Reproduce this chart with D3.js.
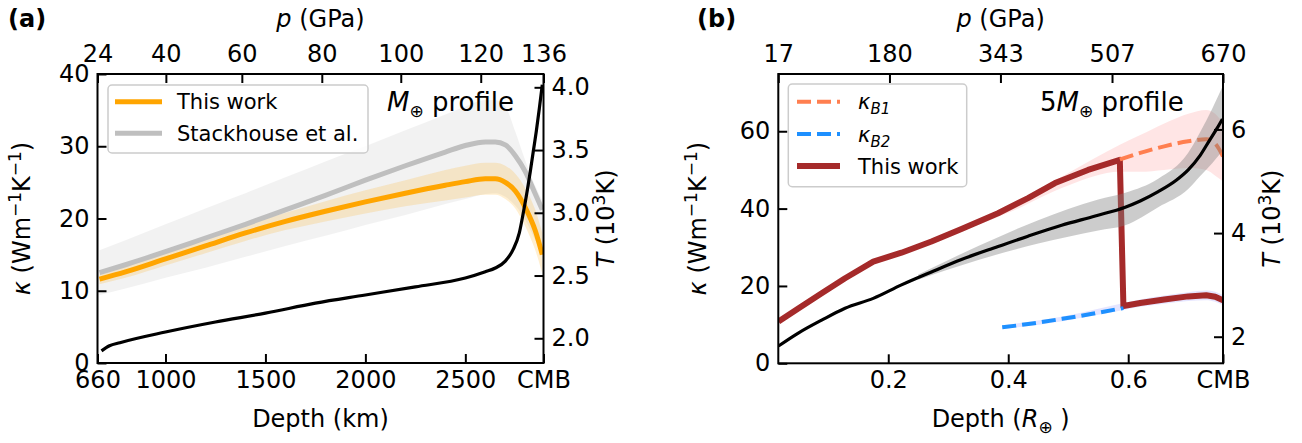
<!DOCTYPE html>
<html>
<head>
<meta charset="utf-8">
<script src="https://cdn.jsdelivr.net/npm/d3@7"></script>
<style>
body { margin: 0; background: #fff; }
text { font-family: "DejaVu Sans", sans-serif; fill: #000; }
</style>
</head>
<body>
<div id="fig"></div>
<script>
// ---------- panel (a): Earth mantle profile ----------
var depthA      = [670, 800, 1000, 1200, 1400, 1600, 1800, 2000, 2200, 2400, 2500, 2600, 2650, 2700, 2750, 2800, 2850, 2885];
var kapThis     = [11.6, 12.6, 14.4, 16.2, 18.0, 19.6, 21.0, 22.3, 23.5, 24.6, 25.1, 25.5, 25.5, 25.0, 23.8, 21.5, 18.3, 15.0];
var kapThisHi   = [12.3, 13.4, 15.3, 17.2, 19.1, 20.8, 22.4, 23.9, 25.3, 26.7, 27.3, 27.7, 27.7, 27.3, 26.2, 24.2, 21.2, 18.0];
var kapThisLo   = [10.9, 11.8, 13.5, 15.2, 16.9, 18.4, 19.6, 20.7, 21.7, 22.5, 22.9, 23.3, 23.3, 22.7, 21.4, 18.9, 15.6, 12.4];
var kapStack    = [12.5, 13.6, 15.4, 17.3, 19.2, 21.2, 23.2, 25.3, 27.3, 29.2, 30.1, 30.6, 30.6, 30.2, 28.7, 26.5, 23.4, 21.2];
var kapStackHi  = [15.6, 17.0, 19.2, 21.4, 23.5, 25.7, 27.9, 30.0, 32.2, 34.4, 35.5, 36.4, 36.4, 35.5, 32.0, 28.0, 24.5, 22.5];
var kapStackLo  = [9.4, 10.3, 11.8, 13.2, 14.7, 16.2, 17.6, 19.1, 20.5, 22.0, 22.7, 23.4, 23.5, 23.0, 21.8, 19.8, 17.0, 15.0];

var depthT_A = [680, 720, 772, 1000, 1250, 1500, 1750, 2000, 2250, 2500, 2600, 2650, 2700, 2740, 2770, 2790, 2810, 2825, 2840, 2855, 2870, 2885];
var tempA    = [1.90, 1.94, 1.965, 2.05, 2.13, 2.20, 2.28, 2.345, 2.41, 2.48, 2.53, 2.56, 2.615, 2.71, 2.84, 3.0, 3.18, 3.33, 3.49, 3.65, 3.83, 4.02];

var depthTicksA  = [660, 1000, 1500, 2000, 2500, 2891];
var depthLabelsA = ["660", "1000", "1500", "2000", "2500", "CMB"];
var pTicksA      = [660, 1002, 1382, 1782, 2177, 2577, 2891];
var pLabelsA     = ["24", "40", "60", "80", "100", "120", "136"];
var kapTicksA    = [0, 10, 20, 30, 40];
var tTicksA      = [2.0, 2.5, 3.0, 3.5, 4.0];

// ---------- panel (b): 5 Earth-mass profile ----------
var depthRed = [0.017, 0.05, 0.089, 0.128, 0.175, 0.222, 0.272, 0.322, 0.383, 0.433, 0.478, 0.533, 0.586, 0.592, 0.62, 0.66, 0.70, 0.73, 0.745, 0.758];
var kapRed   = [10.8, 14.2, 18.1, 22.0, 26.3, 28.6, 31.5, 34.7, 38.8, 42.7, 46.6, 50.0, 52.6, 14.8, 15.6, 16.5, 17.3, 17.6, 17.2, 16.3];

var depthPink = [0.20, 0.30, 0.40, 0.50, 0.586, 0.62, 0.66, 0.70, 0.73, 0.745, 0.758];
var pinkHi    = [27.6, 33.6, 40.6, 49.2, 56.5, 59.0, 62.0, 64.5, 65.5, 64.5, 62.0];
var pinkLo    = [27.3, 32.9, 38.9, 46.0, 49.5, 49.5, 50.0, 50.5, 50.0, 48.5, 47.0];

var depthB1 = [0.586, 0.62, 0.66, 0.70, 0.73, 0.745, 0.758];
var kapB1   = [52.7, 54.4, 56.1, 57.4, 57.9, 56.8, 53.5];

var depthB2 = [0.39, 0.44, 0.49, 0.54, 0.592];
var kapB2   = [9.3, 10.3, 11.5, 12.8, 14.3];

var depthLav = [0.39, 0.49, 0.592, 0.62, 0.66, 0.70, 0.73, 0.745, 0.758];
var lavHi    = [9.8, 12.1, 15.6, 16.5, 17.5, 18.4, 18.8, 18.5, 17.6];
var lavLo    = [8.8, 10.9, 13.8, 14.6, 15.4, 16.1, 16.3, 15.9, 15.0];

var depthT_B = [0.017, 0.05, 0.089, 0.128, 0.175, 0.222, 0.272, 0.322, 0.383, 0.433, 0.489, 0.545, 0.595, 0.62, 0.65, 0.68, 0.70, 0.72, 0.735, 0.748, 0.757];
var tempB    = [1.82, 2.07, 2.32, 2.55, 2.74, 3.0, 3.25, 3.49, 3.74, 3.94, 4.15, 4.33, 4.50, 4.62, 4.80, 5.02, 5.22, 5.50, 5.78, 6.02, 6.2];

var depthTband = [0.25, 0.35, 0.45, 0.55, 0.595, 0.65, 0.70, 0.72, 0.74, 0.758];
var tBandHi    = [3.2, 3.75, 4.25, 4.65, 4.78, 5.05, 5.55, 5.95, 6.4, 6.85];
var tBandLo    = [3.1, 3.48, 3.8, 4.05, 4.15, 4.5, 4.85, 5.1, 5.35, 5.6];

var depthTicksB  = [0.2, 0.4, 0.6, 0.758];
var depthLabelsB = ["0.2", "0.4", "0.6", "CMB"];
var pTicksB      = [0.0167, 0.202, 0.387, 0.573, 0.758];
var pLabelsB     = ["17", "180", "343", "507", "670"];
var kapTicksB    = [0, 20, 40, 60];
var tTicksB      = [2, 4, 6];

var svg = d3.select("#fig").append("svg")
    .attr("width", 1302)
    .attr("height", 443);

var FS = 24;

function drawAxes(p) {
    var g = svg.append("g");
    // bottom
    var ax = g.append("g").attr("transform", "translate(0," + p.bottom + ")")
        .call(d3.axisBottom(p.x).tickValues(p.xTicks).tickSize(-9).tickSizeOuter(0).tickPadding(8)
            .tickFormat(function(d, i){ return p.xLabels[i]; }));
    // top
    var at = g.append("g").attr("transform", "translate(0," + p.top + ")")
        .call(d3.axisTop(p.x).tickValues(p.pTicks).tickSize(-9).tickSizeOuter(0).tickPadding(12)
            .tickFormat(function(d, i){ return p.pLabels[i]; }));
    // left
    var al = g.append("g").attr("transform", "translate(" + p.left + ",0)")
        .call(d3.axisLeft(p.y).tickValues(p.yTicks).tickSize(-9).tickSizeOuter(0).tickPadding(8)
            .tickFormat(p.yFormat));
    // right
    var ar = g.append("g").attr("transform", "translate(" + p.right + ",0)")
        .call(d3.axisRight(p.t).tickValues(p.tTicks).tickSize(-9).tickSizeOuter(0).tickPadding(8)
            .tickFormat(p.tFormat));
    [ax, at, al, ar].forEach(function(a){
        a.select(".domain").remove();
        a.selectAll(".tick line").attr("stroke", "#000").attr("stroke-width", 2);
        a.selectAll(".tick text").style("font-size", FS + "px").style("font-family", "DejaVu Sans").attr("fill", "#000");
    });
    g.append("rect")
        .attr("x", p.left).attr("y", p.top)
        .attr("width", p.right - p.left).attr("height", p.bottom - p.top)
        .attr("fill", "none").attr("stroke", "#000").attr("stroke-width", 2);
}

function clip(id, p) {
    svg.append("clipPath").attr("id", id).append("rect")
        .attr("x", p.left).attr("y", p.top)
        .attr("width", p.right - p.left).attr("height", p.bottom - p.top);
}

function band(g, xs, lo, hi, x, y, color, op) {
    var area = d3.area()
        .x(function(d){ return x(d[0]); })
        .y0(function(d){ return y(d[1]); })
        .y1(function(d){ return y(d[2]); })
        .curve(d3.curveMonotoneX);
    g.append("path").datum(d3.zip(xs, lo, hi))
        .attr("d", area).attr("fill", color).attr("fill-opacity", op).attr("stroke", "none");
}

function curve(g, xs, ys, x, y, color, w, dash, c) {
    var line = d3.line()
        .x(function(d){ return x(d[0]); })
        .y(function(d){ return y(d[1]); })
        .curve(c || d3.curveMonotoneX);
    var path = g.append("path").datum(d3.zip(xs, ys))
        .attr("d", line).attr("fill", "none").attr("stroke", color)
        .attr("stroke-width", w).attr("stroke-linejoin", "round");
    if (dash) path.attr("stroke-dasharray", dash);
}

function kappaLabel(x, y) {
    var t = svg.append("text").attr("transform", "translate(" + x + "," + y + ") rotate(-90)")
        .attr("text-anchor", "middle").style("font-size", FS + "px");
    t.append("tspan").style("font-style", "italic").text("κ");
    t.append("tspan").text(" (Wm");
    t.append("tspan").attr("dy", -9).style("font-size", "17px").text("−1");
    t.append("tspan").attr("dy", 9).text("K");
    t.append("tspan").attr("dy", -9).style("font-size", "17px").text("−1");
    t.append("tspan").attr("dy", 9).text(")");
}

function tempLabel(x, y) {
    var t = svg.append("text").attr("transform", "translate(" + x + "," + y + ") rotate(-90)")
        .attr("text-anchor", "middle").style("font-size", FS + "px");
    t.append("tspan").style("font-style", "italic").text("T");
    t.append("tspan").text(" (10");
    t.append("tspan").attr("dy", -9).style("font-size", "17px").text("3");
    t.append("tspan").attr("dy", 9).text("K)");
}

function pLabel(x) {
    var t = svg.append("text").attr("x", x).attr("y", 27).attr("text-anchor", "middle").style("font-size", FS + "px");
    t.append("tspan").style("font-style", "italic").text("p");
    t.append("tspan").text(" (GPa)");
}

function profileText(x, y, prefix) {
    var t = svg.append("text").attr("x", x).attr("y", y).style("font-size", "26px");
    if (prefix) t.append("tspan").text(prefix);
    t.append("tspan").style("font-style", "italic").text("M");
    t.append("tspan").attr("dy", 6).style("font-size", "17px").text("⊕");
    t.append("tspan").attr("dy", -6).text(" profile");
}

// ================= panel (a) =================
var pa = { left: 97.5, right: 543.5, top: 74, bottom: 363 };
pa.x = d3.scaleLinear().domain([660, 2891]).range([pa.left, pa.right]);
pa.y = d3.scaleLinear().domain([0, 40]).range([pa.bottom, pa.top]);
pa.t = d3.scaleLinear().domain([1.803, 4.106]).range([pa.bottom, pa.top]);
pa.xTicks = depthTicksA; pa.xLabels = depthLabelsA;
pa.pTicks = pTicksA; pa.pLabels = pLabelsA;
pa.yTicks = kapTicksA; pa.yFormat = d3.format("d");
pa.tTicks = tTicksA; pa.tFormat = d3.format(".1f");

clip("clipA", pa);
var ga = svg.append("g").attr("clip-path", "url(#clipA)");
band(ga, depthA, kapStackLo, kapStackHi, pa.x, pa.y, "#808080", 0.1);
band(ga, depthA, kapThisLo, kapThisHi, pa.x, pa.y, "orange", 0.18);
curve(ga, depthA, kapStack, pa.x, pa.y, "#bfbfbf", 5);
curve(ga, depthA, kapThis, pa.x, pa.y, "orange", 5);
curve(ga, depthT_A, tempA, pa.x, pa.t, "#000", 3.2);
drawAxes(pa);

// legend (a)
var la = svg.append("g");
la.append("rect").attr("x", 108).attr("y", 85).attr("width", 260).attr("height", 68).attr("rx", 4)
    .attr("fill", "#fff").attr("fill-opacity", 0.8).attr("stroke", "#cccccc").attr("stroke-width", 1.5);
[["This work", "orange", 101.7], ["Stackhouse et al.", "#bfbfbf", 133.3]].forEach(function(e){
    la.append("line").attr("x1", 115).attr("x2", 162).attr("y1", e[2]).attr("y2", e[2])
        .attr("stroke", e[1]).attr("stroke-width", 5);
    la.append("text").attr("x", 177).attr("y", e[2]).attr("dy", "0.36em").style("font-size", "21px").text(e[0]);
});
profileText(387, 111, null);

svg.append("text").attr("x", 8).attr("y", 27).style("font-size", FS + "px").style("font-weight", "bold").text("(a)");
pLabel((pa.left + pa.right) / 2);
svg.append("text").attr("x", (pa.left + pa.right) / 2).attr("y", 427).attr("text-anchor", "middle")
    .style("font-size", FS + "px").text("Depth (km)");
kappaLabel(30, (pa.top + pa.bottom) / 2);
tempLabel(614, (pa.top + pa.bottom) / 2);

// ================= panel (b) =================
var pb = { left: 778.3, right: 1223, top: 74, bottom: 363.3 };
pb.x = d3.scaleLinear().domain([0.0167, 0.758]).range([pb.left, pb.right]);
pb.y = d3.scaleLinear().domain([0, 74.8]).range([pb.bottom, pb.top]);
pb.t = d3.scaleLinear().domain([1.487, 7.07]).range([pb.bottom, pb.top]);
pb.xTicks = depthTicksB; pb.xLabels = depthLabelsB;
pb.pTicks = pTicksB; pb.pLabels = pLabelsB;
pb.yTicks = kapTicksB; pb.yFormat = d3.format("d");
pb.tTicks = tTicksB; pb.tFormat = d3.format("d");

clip("clipB", pb);
var gb = svg.append("g").attr("clip-path", "url(#clipB)");
band(gb, depthPink, pinkLo, pinkHi, pb.x, pb.y, "red", 0.1);
band(gb, depthLav, lavLo, lavHi, pb.x, pb.y, "blue", 0.1);
curve(gb, depthRed, kapRed, pb.x, pb.y, "#a52a2a", 6, null, d3.curveLinear);
curve(gb, depthB1, kapB1, pb.x, pb.y, "coral", 4, "14,6");
curve(gb, depthB2, kapB2, pb.x, pb.y, "dodgerblue", 4, "14,6");
band(gb, depthTband, tBandLo, tBandHi, pb.x, pb.t, "#808080", 0.4);
curve(gb, depthT_B, tempB, pb.x, pb.t, "#000", 3.2);
drawAxes(pb);

// legend (b)
var lb = svg.append("g");
lb.append("rect").attr("x", 788.3).attr("y", 84).attr("width", 178.4).attr("height", 102.7).attr("rx", 4)
    .attr("fill", "#fff").attr("fill-opacity", 0.8).attr("stroke", "#cccccc").attr("stroke-width", 1.5);
var legB = [["B1", "coral", 101.7, "14,6", 4], ["B2", "dodgerblue", 134, "14,6", 4], [null, "#a52a2a", 166, null, 6]];
legB.forEach(function(e){
    var ln = lb.append("line").attr("x1", 797).attr("x2", 840).attr("y1", e[2]).attr("y2", e[2])
        .attr("stroke", e[1]).attr("stroke-width", e[4]);
    if (e[3]) ln.attr("stroke-dasharray", e[3]);
    var t = lb.append("text").attr("x", 858).attr("y", e[2]).attr("dy", "0.36em").style("font-size", "21px");
    if (e[0]) {
        t.append("tspan").style("font-style", "italic").text("κ");
        t.append("tspan").attr("dy", 5).style("font-style", "italic").style("font-size", "15px").text(e[0]);
    } else {
        t.text("This work");
    }
});
profileText(1040, 111, "5");

svg.append("text").attr("x", 697).attr("y", 27).style("font-size", FS + "px").style("font-weight", "bold").text("(b)");
pLabel((pb.left + pb.right) / 2);
var dl = svg.append("text").attr("x", (pb.left + pb.right) / 2).attr("y", 427).attr("text-anchor", "middle")
    .style("font-size", FS + "px");
dl.append("tspan").text("Depth (");
dl.append("tspan").style("font-style", "italic").text("R");
dl.append("tspan").attr("dy", 6).style("font-size", "17px").text("⊕");
dl.append("tspan").attr("dy", -6).text(" )");
kappaLabel(706, (pb.top + pb.bottom) / 2);
tempLabel(1280, (pb.top + pb.bottom) / 2);
</script>
</body>
</html>
